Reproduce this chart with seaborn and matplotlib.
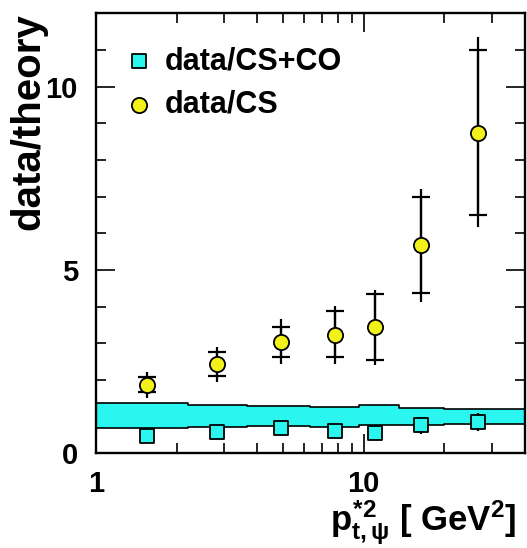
import numpy as np
import pandas as pd
import matplotlib
matplotlib.use('Agg')
import matplotlib.pyplot as plt
import matplotlib.ticker as mticker
import seaborn as sns

# data
pt2 = [1.55, 2.84, 4.91, 7.80, 11.04, 16.4, 26.6]

# data / CS (colour singlet)
ratio_cs = [1.86, 2.44, 3.04, 3.23, 3.44, 5.68, 8.74]
cs_stat_hi = [2.08, 2.75, 3.45, 3.89, 4.34, 6.98, 11.00]
cs_stat_lo = [1.66, 2.12, 2.63, 2.62, 2.54, 4.38, 6.50]
cs_tot_hi = [2.21, 2.91, 3.66, 4.03, 4.45, 7.21, 11.34]
cs_tot_lo = [1.52, 1.94, 2.44, 2.44, 2.41, 4.13, 6.16]

# data / CS+CO
ratio_csco = [0.47, 0.59, 0.68, 0.61, 0.56, 0.76, 0.86]
csco_err = [0.12, 0.12, 0.15, 0.15, 0.15, 0.22, 0.25]

# theory uncertainty band (CS+CO), bin edges and limits
band_edges = [1.0, 2.2, 3.66, 6.31, 9.58, 13.5, 19.9, 40.0]
band_hi = [1.36, 1.32, 1.29, 1.25, 1.32, 1.24, 1.21]
band_lo = [0.70, 0.71, 0.75, 0.73, 0.77, 0.77, 0.80]

# %%
df_cs = pd.DataFrame({'pt2': pt2, 'ratio': ratio_cs})
df_csco = pd.DataFrame({'pt2': pt2, 'ratio': ratio_csco})

sns.set_theme(style='ticks')
plt.rcParams['font.family'] = ['Liberation Sans', 'DejaVu Sans']
plt.rcParams['font.weight'] = 'bold'
plt.rcParams['mathtext.fontset'] = 'custom'
plt.rcParams['mathtext.rm'] = 'Liberation Sans:bold'
plt.rcParams['mathtext.it'] = 'Liberation Sans:bold'
plt.rcParams['mathtext.bf'] = 'Liberation Sans:bold'
for k in ['text.color', 'axes.labelcolor', 'xtick.color', 'ytick.color', 'axes.edgecolor']:
    plt.rcParams[k] = 'black'

cyan = '#2af5ee'
yellow = '#f2f21a'

fig = plt.figure(figsize=(5.27, 5.48), dpi=100)
ax = fig.add_axes([96 / 527, 94.7 / 548, 429 / 527, 440 / 548])

# band
hi_ext = band_hi + [band_hi[-1]]
lo_ext = band_lo + [band_lo[-1]]
ax.fill_between(band_edges, lo_ext, hi_ext, step='post', color=cyan, lw=0, zorder=1)
ax.step(band_edges, hi_ext, where='post', color='black', lw=1.2, zorder=2)
ax.step(band_edges, lo_ext, where='post', color='black', lw=1.2, zorder=2)

# error bars
cs = np.array(ratio_cs)
ax.errorbar(pt2, cs, yerr=[cs - np.array(cs_tot_lo), np.array(cs_tot_hi) - cs],
            fmt='none', ecolor='black', elinewidth=1.6, capsize=0, zorder=3)
ax.errorbar(pt2, cs, yerr=[cs - np.array(cs_stat_lo), np.array(cs_stat_hi) - cs],
            fmt='none', ecolor='black', elinewidth=1.6, capsize=6.5, capthick=1.6, zorder=3)
ax.errorbar(pt2, ratio_csco, yerr=csco_err, fmt='none', ecolor='black',
            elinewidth=1.6, capsize=0, zorder=3)

# markers
sns.scatterplot(data=df_csco, x='pt2', y='ratio', marker='s', s=100, color=cyan,
                edgecolor='black', linewidth=1.3, zorder=4, ax=ax, label='data/CS+CO')
sns.scatterplot(data=df_cs, x='pt2', y='ratio', marker='o', s=120, color=yellow,
                edgecolor='black', linewidth=1.3, zorder=5, ax=ax, label='data/CS')

ax.set_xscale('log')
ax.set_xlim(1, 40)
ax.set_ylim(0, 12)

ax.xaxis.set_major_locator(mticker.FixedLocator([1, 10]))
ax.xaxis.set_major_formatter(mticker.FixedFormatter(['1', '10']))
ax.xaxis.set_minor_locator(mticker.FixedLocator([2, 3, 4, 5, 6, 7, 8, 9, 20, 30]))
ax.xaxis.set_minor_formatter(mticker.NullFormatter())
ax.yaxis.set_major_locator(mticker.FixedLocator([0, 5, 10]))
ax.yaxis.set_minor_locator(mticker.MultipleLocator(1))

ax.tick_params(which='both', direction='in', top=True, right=True, width=1.2, colors='black')
ax.tick_params(which='major', length=14, labelsize=21)
ax.tick_params(which='minor', length=7)
ax.tick_params(axis='y', which='major', pad=13)
ax.tick_params(axis='x', which='major', pad=12)
for sp in ax.spines.values():
    sp.set_linewidth(1.7)
    sp.set_color('black')

ax.set_ylabel('data/theory', fontsize=29, fontweight='bold', loc='top', color='black')
ax.yaxis.set_label_coords(-0.114, 1.0)
ax.set_xlabel(r'$p^{*2}_{t,\psi}$ [ GeV$^{2}$]', fontsize=25, fontweight='bold', loc='right',
              color='black')
ax.xaxis.set_label_coords(0.981, -0.104)

leg = ax.legend(loc='upper left', bbox_to_anchor=(-0.007, 0.988), frameon=False,
                fontsize=22, handletextpad=0.25, labelspacing=0.45, markerscale=1.0,
                handlelength=1.2)
for t in leg.get_texts():
    t.set_fontweight('bold')
    t.set_color('black')

fig.savefig('out.png', dpi=100)
